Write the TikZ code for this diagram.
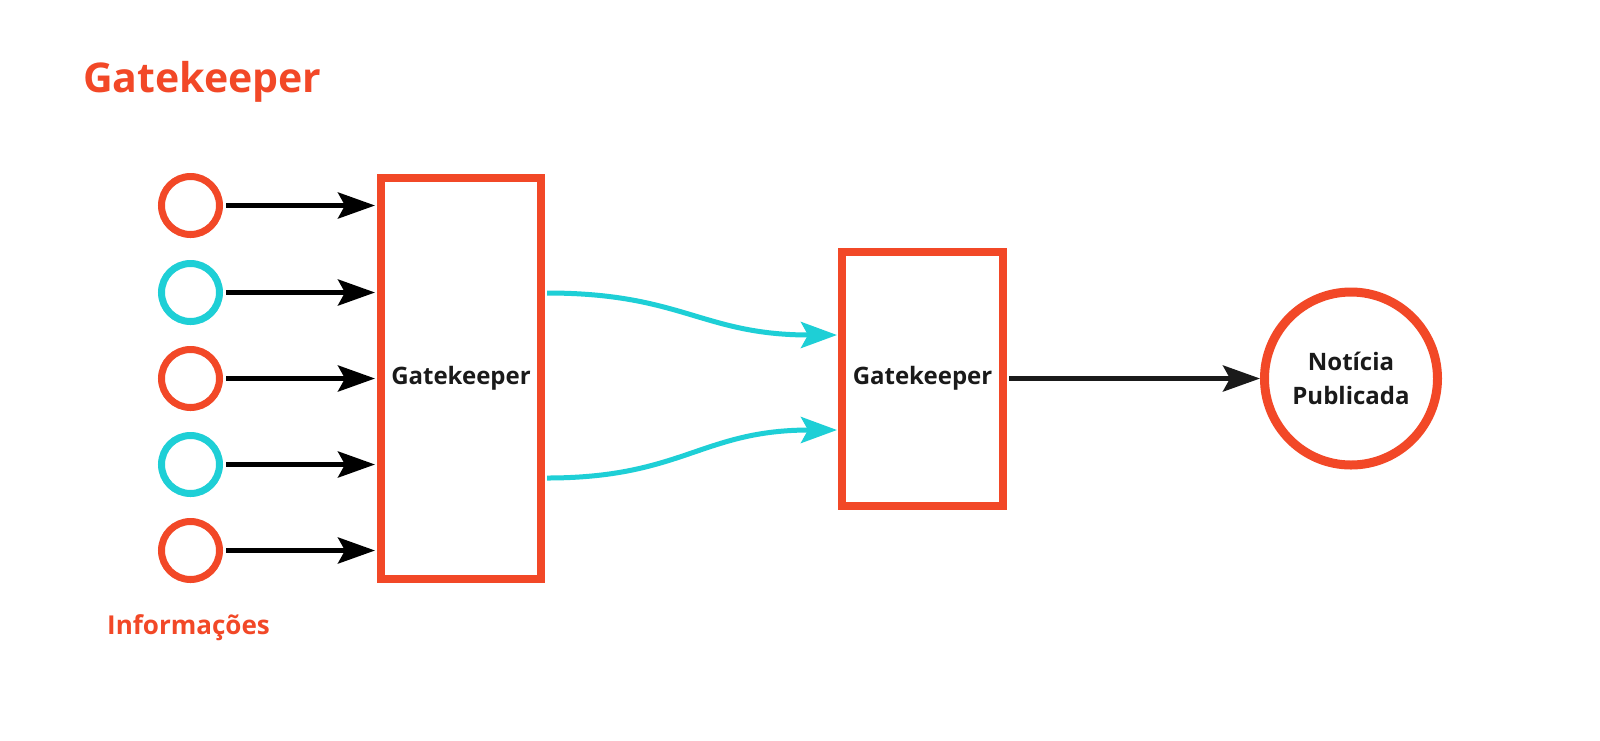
\documentclass[tikz,border=0pt]{standalone}
\usepackage{fontspec}
\setmainfont{Open Sans}[BoldFont={* Bold}]
\usetikzlibrary{arrows.meta}
\definecolor{gkred}{HTML}{F24827}
\definecolor{gkcyan}{HTML}{1ECFD6}
\definecolor{gkdark}{HTML}{1A1A1A}
\tikzset{
  smallred/.style={circle, draw=gkred, line width=7pt, minimum size=58pt, inner sep=0pt},
  smallcyan/.style={circle, draw=gkcyan, line width=7pt, minimum size=58pt, inner sep=0pt},
  gatebox/.style={rectangle, draw=gkred, line width=8pt, inner sep=0pt, font=\fontsize{24}{29}\selectfont\bfseries, text=gkdark},
  blackarr/.style={line width=5pt, draw=black, -{Stealth[length=37pt, width=26pt, inset=7pt]}},
  darkarr/.style={line width=5pt, draw=gkdark, -{Stealth[length=37pt, width=26pt, inset=7pt]}},
  cyanarr/.style={line width=5pt, draw=gkcyan, -{Stealth[length=36pt, width=26pt, inset=7pt]}},
}
\begin{document}
\begin{tikzpicture}[x=1pt, y=-1pt]
\useasboundingbox (0,0) rectangle (1600,740);
\fill[white] (0,0) rectangle (1600,740);

\node[anchor=base west, text=gkred, font=\fontsize{41}{49}\selectfont\bfseries, inner sep=0pt] (title) at (83,92) {Gatekeeper};

\node[smallred]  (c1) at (190.5,205.5) {};
\node[smallcyan] (c2) at (190.5,292.5) {};
\node[smallred]  (c3) at (190.5,378.5) {};
\node[smallcyan] (c4) at (190.5,464.5) {};
\node[smallred]  (c5) at (190.5,550.5) {};

\node[anchor=base west, text=gkred, font=\fontsize{26}{31}\selectfont\bfseries, inner sep=0pt] (info) at (107,634) {Informações};

\node[gatebox, minimum width=160pt, minimum height=401pt] (b1) at (461,378.5) {Gatekeeper};
\node[gatebox, minimum width=161pt, minimum height=254pt] (b2) at (922.5,378.5) {Gatekeeper};

\node[circle, draw=gkred, line width=9pt, minimum size=173pt, inner sep=0pt, align=center,
      font=\fontsize{24}{34}\selectfont\bfseries, text=gkdark] (pub) at (1351,378.5) {Notícia\\Publicada};

\foreach \i in {1,...,5}{
  \draw[blackarr, shorten <=3pt, shorten >=2pt] (c\i.east) -- (c\i.east -| b1.west);
}

\coordinate (s1) at ([xshift=2pt]b1.east |- 0,293);
\coordinate (s2) at ([xshift=2pt]b1.east |- 0,478);
\coordinate (e1) at ([xshift=-1pt]b2.west |- 0,335);
\coordinate (e2) at ([xshift=-1pt]b2.west |- 0,430);
\draw[cyanarr] (s1) .. controls ([xshift=135pt]s1) and ([xshift=-135pt]e1) .. (e1);
\draw[cyanarr] (s2) .. controls ([xshift=135pt]s2) and ([xshift=-135pt]e2) .. (e2);

\draw[darkarr, shorten <=2pt] (b2.east) -- (pub.west);
\end{tikzpicture}
\end{document}
